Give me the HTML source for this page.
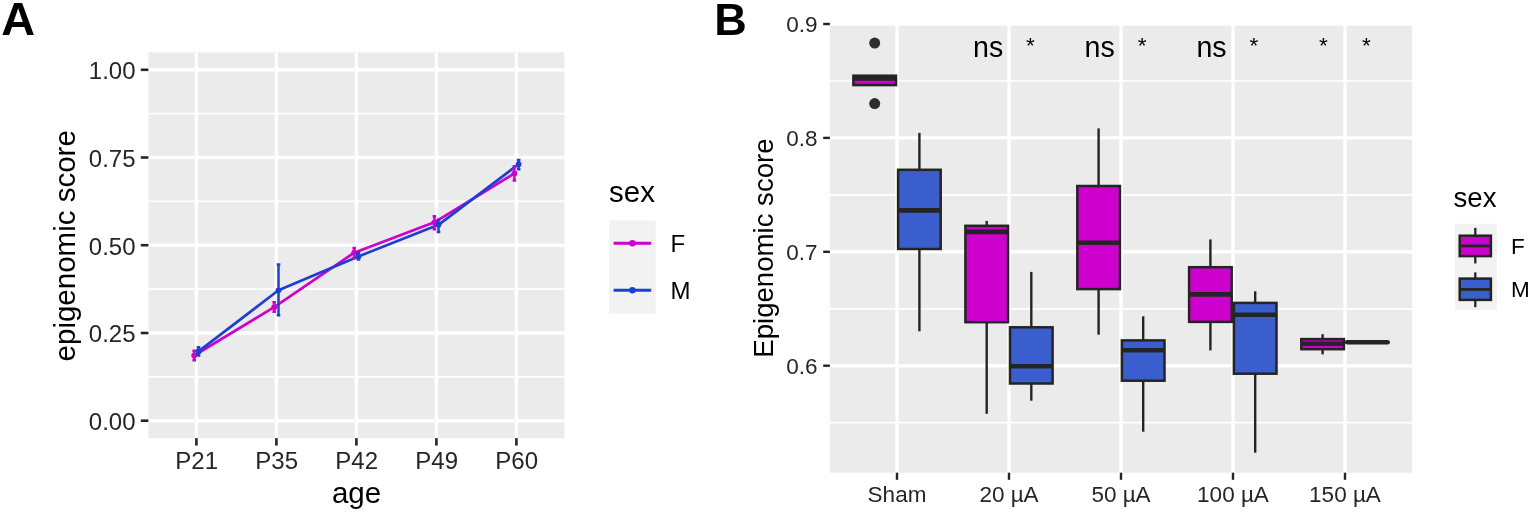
<!DOCTYPE html>
<html><head><meta charset="utf-8"><title>Figure</title>
<style>
html,body{margin:0;padding:0;background:#fff;}
body{width:1535px;height:512px;overflow:hidden;}
svg{display:block;}
</style></head>
<body>
<svg width="1535" height="512" viewBox="0 0 1535 512" font-family="'Liberation Sans', Arial, Helvetica, sans-serif">
<rect width="1535" height="512" fill="#fff"/>
<rect x="148.4" y="52.4" width="416.0" height="385.7" fill="#EBEBEB"/>
<line x1="148.4" x2="564.4" y1="376.8" y2="376.8" stroke="#fff" stroke-width="1.7"/>
<line x1="148.4" x2="564.4" y1="289.1" y2="289.1" stroke="#fff" stroke-width="1.7"/>
<line x1="148.4" x2="564.4" y1="201.4" y2="201.4" stroke="#fff" stroke-width="1.7"/>
<line x1="148.4" x2="564.4" y1="113.7" y2="113.7" stroke="#fff" stroke-width="1.7"/>
<line x1="148.4" x2="564.4" y1="420.7" y2="420.7" stroke="#fff" stroke-width="3.4"/>
<line x1="148.4" x2="564.4" y1="333.0" y2="333.0" stroke="#fff" stroke-width="3.4"/>
<line x1="148.4" x2="564.4" y1="245.2" y2="245.2" stroke="#fff" stroke-width="3.4"/>
<line x1="148.4" x2="564.4" y1="157.5" y2="157.5" stroke="#fff" stroke-width="3.4"/>
<line x1="148.4" x2="564.4" y1="69.8" y2="69.8" stroke="#fff" stroke-width="3.4"/>
<line x1="196.4" x2="196.4" y1="52.4" y2="438.1" stroke="#fff" stroke-width="3.4"/>
<line x1="276.4" x2="276.4" y1="52.4" y2="438.1" stroke="#fff" stroke-width="3.4"/>
<line x1="356.4" x2="356.4" y1="52.4" y2="438.1" stroke="#fff" stroke-width="3.4"/>
<line x1="436.4" x2="436.4" y1="52.4" y2="438.1" stroke="#fff" stroke-width="3.4"/>
<line x1="516.4" x2="516.4" y1="52.4" y2="438.1" stroke="#fff" stroke-width="3.4"/>
<line x1="140.8" x2="148.4" y1="420.7" y2="420.7" stroke="#242424" stroke-width="2.6"/>
<line x1="140.8" x2="148.4" y1="333.0" y2="333.0" stroke="#242424" stroke-width="2.6"/>
<line x1="140.8" x2="148.4" y1="245.2" y2="245.2" stroke="#242424" stroke-width="2.6"/>
<line x1="140.8" x2="148.4" y1="157.5" y2="157.5" stroke="#242424" stroke-width="2.6"/>
<line x1="140.8" x2="148.4" y1="69.8" y2="69.8" stroke="#242424" stroke-width="2.6"/>
<line x1="196.4" x2="196.4" y1="438.1" y2="445.6" stroke="#242424" stroke-width="2.6"/>
<line x1="276.4" x2="276.4" y1="438.1" y2="445.6" stroke="#242424" stroke-width="2.6"/>
<line x1="356.4" x2="356.4" y1="438.1" y2="445.6" stroke="#242424" stroke-width="2.6"/>
<line x1="436.4" x2="436.4" y1="438.1" y2="445.6" stroke="#242424" stroke-width="2.6"/>
<line x1="516.4" x2="516.4" y1="438.1" y2="445.6" stroke="#242424" stroke-width="2.6"/>
<text x="135.5" y="430.1" text-anchor="end" font-size="24" fill="#262626">0.00</text>
<text x="135.5" y="342.4" text-anchor="end" font-size="24" fill="#262626">0.25</text>
<text x="135.5" y="254.7" text-anchor="end" font-size="24" fill="#262626">0.50</text>
<text x="135.5" y="166.9" text-anchor="end" font-size="24" fill="#262626">0.75</text>
<text x="135.5" y="79.2" text-anchor="end" font-size="24" fill="#262626">1.00</text>
<text x="196.7" y="468.9" text-anchor="middle" font-size="24" fill="#262626">P21</text>
<text x="276.7" y="468.9" text-anchor="middle" font-size="24" fill="#262626">P35</text>
<text x="356.7" y="468.9" text-anchor="middle" font-size="24" fill="#262626">P42</text>
<text x="436.7" y="468.9" text-anchor="middle" font-size="24" fill="#262626">P49</text>
<text x="516.7" y="468.9" text-anchor="middle" font-size="24" fill="#262626">P60</text>
<text x="356.5" y="502.5" text-anchor="middle" font-size="29.5" fill="#000">age</text>
<text transform="translate(75.2,245.8) rotate(-90)" text-anchor="middle" font-size="29.5" fill="#000">epigenomic score</text>
<path d="M194.2 355.5 L274.2 307.2 L354.2 252.7 L434.4 222.3 L514.4 173.4" stroke="#CD00CD" stroke-width="2.7" fill="none" stroke-linejoin="round"/>
<path d="M198.5 351.4 L278.5 290.3 L358.4 256.4 L438.5 224.8 L518.6 164.2" stroke="#1E40D0" stroke-width="2.7" fill="none" stroke-linejoin="round"/>
<circle cx="194.2" cy="355.5" r="2.9" fill="#CD00CD"/>
<circle cx="274.2" cy="307.2" r="2.9" fill="#CD00CD"/>
<circle cx="354.2" cy="252.7" r="2.9" fill="#CD00CD"/>
<circle cx="434.4" cy="222.3" r="2.9" fill="#CD00CD"/>
<circle cx="514.4" cy="173.4" r="2.9" fill="#CD00CD"/>
<circle cx="198.5" cy="351.4" r="2.9" fill="#1E40D0"/>
<circle cx="278.5" cy="290.3" r="2.9" fill="#1E40D0"/>
<circle cx="358.4" cy="256.4" r="2.9" fill="#1E40D0"/>
<circle cx="438.5" cy="224.8" r="2.9" fill="#1E40D0"/>
<circle cx="518.6" cy="164.2" r="2.9" fill="#1E40D0"/>
<path d="M192.4 350.7H196.0M194.2 350.7V360.3M192.4 360.3H196.0" stroke="#CD00CD" stroke-width="2.5" fill="none"/>
<path d="M272.4 302.3H276.0M274.2 302.3V311.8M272.4 311.8H276.0" stroke="#CD00CD" stroke-width="2.5" fill="none"/>
<path d="M352.4 248.0H356.0M354.2 248.0V257.9M352.4 257.9H356.0" stroke="#CD00CD" stroke-width="2.5" fill="none"/>
<path d="M432.6 216.3H436.2M434.4 216.3V229.3M432.6 229.3H436.2" stroke="#CD00CD" stroke-width="2.5" fill="none"/>
<path d="M512.6 166.3H516.2M514.4 166.3V180.4M512.6 180.4H516.2" stroke="#CD00CD" stroke-width="2.5" fill="none"/>
<path d="M196.7 347.3H200.3M198.5 347.3V355.5M196.7 355.5H200.3" stroke="#1E40D0" stroke-width="2.5" fill="none"/>
<path d="M276.7 264.5H280.3M278.5 264.5V315.2M276.7 315.2H280.3" stroke="#1E40D0" stroke-width="2.5" fill="none"/>
<path d="M356.6 252.8H360.2M358.4 252.8V259.5M356.6 259.5H360.2" stroke="#1E40D0" stroke-width="2.5" fill="none"/>
<path d="M436.7 219.7H440.3M438.5 219.7V232.0M436.7 232.0H440.3" stroke="#1E40D0" stroke-width="2.5" fill="none"/>
<path d="M516.8 159.9H520.4M518.6 159.9V169.3M516.8 169.3H520.4" stroke="#1E40D0" stroke-width="2.5" fill="none"/>
<text x="609" y="202.3" font-size="29.5" fill="#000">sex</text>
<rect x="609.1" y="220.4" width="46.6" height="93.2" fill="#F2F2F2"/>
<line x1="613.6" x2="651.2" y1="243.2" y2="243.2" stroke="#CD00CD" stroke-width="2.9"/>
<circle cx="632.4" cy="243.2" r="3.3" fill="#CD00CD"/>
<text x="670.6" y="251.8" font-size="24" fill="#000">F</text>
<line x1="613.6" x2="651.2" y1="290.2" y2="290.2" stroke="#1E40D0" stroke-width="2.9"/>
<circle cx="632.4" cy="290.2" r="3.3" fill="#1E40D0"/>
<text x="670.6" y="298.8" font-size="24" fill="#000">M</text>
<text transform="translate(1.3,35.1) scale(1.02,1)" font-size="46" font-weight="bold" fill="#000">A</text>
<rect x="829.9" y="24.0" width="582.2" height="448.7" fill="#EBEBEB"/>
<line x1="829.9" x2="1412.1" y1="81.0" y2="81.0" stroke="#fff" stroke-width="1.7"/>
<line x1="829.9" x2="1412.1" y1="194.9" y2="194.9" stroke="#fff" stroke-width="1.7"/>
<line x1="829.9" x2="1412.1" y1="308.8" y2="308.8" stroke="#fff" stroke-width="1.7"/>
<line x1="829.9" x2="1412.1" y1="422.6" y2="422.6" stroke="#fff" stroke-width="1.7"/>
<line x1="829.9" x2="1412.1" y1="24.0" y2="24.0" stroke="#fff" stroke-width="3.4"/>
<line x1="829.9" x2="1412.1" y1="137.9" y2="137.9" stroke="#fff" stroke-width="3.4"/>
<line x1="829.9" x2="1412.1" y1="251.8" y2="251.8" stroke="#fff" stroke-width="3.4"/>
<line x1="829.9" x2="1412.1" y1="365.7" y2="365.7" stroke="#fff" stroke-width="3.4"/>
<line x1="897.0" x2="897.0" y1="22.3" y2="472.7" stroke="#fff" stroke-width="3.4"/>
<line x1="1009.0" x2="1009.0" y1="22.3" y2="472.7" stroke="#fff" stroke-width="3.4"/>
<line x1="1121.0" x2="1121.0" y1="22.3" y2="472.7" stroke="#fff" stroke-width="3.4"/>
<line x1="1233.0" x2="1233.0" y1="22.3" y2="472.7" stroke="#fff" stroke-width="3.4"/>
<line x1="1345.0" x2="1345.0" y1="22.3" y2="472.7" stroke="#fff" stroke-width="3.4"/>
<line x1="823.2" x2="829.9" y1="24.0" y2="24.0" stroke="#242424" stroke-width="2.4"/>
<line x1="823.2" x2="829.9" y1="137.9" y2="137.9" stroke="#242424" stroke-width="2.4"/>
<line x1="823.2" x2="829.9" y1="251.8" y2="251.8" stroke="#242424" stroke-width="2.4"/>
<line x1="823.2" x2="829.9" y1="365.7" y2="365.7" stroke="#242424" stroke-width="2.4"/>
<line x1="897.0" x2="897.0" y1="472.7" y2="479.8" stroke="#242424" stroke-width="2.4"/>
<line x1="1009.0" x2="1009.0" y1="472.7" y2="479.8" stroke="#242424" stroke-width="2.4"/>
<line x1="1121.0" x2="1121.0" y1="472.7" y2="479.8" stroke="#242424" stroke-width="2.4"/>
<line x1="1233.0" x2="1233.0" y1="472.7" y2="479.8" stroke="#242424" stroke-width="2.4"/>
<line x1="1345.0" x2="1345.0" y1="472.7" y2="479.8" stroke="#242424" stroke-width="2.4"/>
<text x="817.5" y="32.1" text-anchor="end" font-size="22.5" fill="#262626">0.9</text>
<text x="817.5" y="146.0" text-anchor="end" font-size="22.5" fill="#262626">0.8</text>
<text x="817.5" y="259.9" text-anchor="end" font-size="22.5" fill="#262626">0.7</text>
<text x="817.5" y="373.8" text-anchor="end" font-size="22.5" fill="#262626">0.6</text>
<text x="897.0" y="501.7" text-anchor="middle" font-size="22.5" fill="#262626">Sham</text>
<text x="1009.0" y="501.7" text-anchor="middle" font-size="22.5" fill="#262626">20 µA</text>
<text x="1121.0" y="501.7" text-anchor="middle" font-size="22.5" fill="#262626">50 µA</text>
<text x="1233.0" y="501.7" text-anchor="middle" font-size="22.5" fill="#262626">100 µA</text>
<text x="1345.0" y="501.7" text-anchor="middle" font-size="22.5" fill="#262626">150 µA</text>
<text transform="translate(772.9,248.1) rotate(-90)" text-anchor="middle" font-size="27.6" fill="#000">Epigenomic score</text>
<rect x="853.4" y="75.7" width="42.6" height="9.4" fill="#CD00CD" stroke="#242424" stroke-width="2.5"/>
<line x1="853.4" x2="896.0" y1="78.5" y2="78.5" stroke="#242424" stroke-width="4.6"/>
<line x1="919.4" x2="919.4" y1="132.9" y2="169.8" stroke="#242424" stroke-width="2.4"/>
<line x1="919.4" x2="919.4" y1="249.0" y2="331.3" stroke="#242424" stroke-width="2.4"/>
<rect x="898.1" y="169.8" width="42.6" height="79.2" fill="#3A5ECD" stroke="#242424" stroke-width="2.5"/>
<line x1="898.1" x2="940.7" y1="210.4" y2="210.4" stroke="#242424" stroke-width="4.6"/>
<line x1="986.7" x2="986.7" y1="220.9" y2="225.8" stroke="#242424" stroke-width="2.4"/>
<line x1="986.7" x2="986.7" y1="322.2" y2="413.8" stroke="#242424" stroke-width="2.4"/>
<rect x="965.4" y="225.8" width="42.6" height="96.4" fill="#CD00CD" stroke="#242424" stroke-width="2.5"/>
<line x1="965.4" x2="1008.0" y1="231.9" y2="231.9" stroke="#242424" stroke-width="4.6"/>
<line x1="1031.3" x2="1031.3" y1="271.9" y2="327.3" stroke="#242424" stroke-width="2.4"/>
<line x1="1031.3" x2="1031.3" y1="383.5" y2="400.7" stroke="#242424" stroke-width="2.4"/>
<rect x="1010.0" y="327.3" width="42.6" height="56.2" fill="#3A5ECD" stroke="#242424" stroke-width="2.5"/>
<line x1="1010.0" x2="1052.6" y1="366.3" y2="366.3" stroke="#242424" stroke-width="4.6"/>
<line x1="1098.6" x2="1098.6" y1="128.4" y2="186.0" stroke="#242424" stroke-width="2.4"/>
<line x1="1098.6" x2="1098.6" y1="289.09999999999997" y2="334.7" stroke="#242424" stroke-width="2.4"/>
<rect x="1077.3" y="186.0" width="42.6" height="103.1" fill="#CD00CD" stroke="#242424" stroke-width="2.5"/>
<line x1="1077.3" x2="1119.9" y1="242.8" y2="242.8" stroke="#242424" stroke-width="4.6"/>
<line x1="1143.2" x2="1143.2" y1="316.3" y2="340.4" stroke="#242424" stroke-width="2.4"/>
<line x1="1143.2" x2="1143.2" y1="380.7" y2="431.7" stroke="#242424" stroke-width="2.4"/>
<rect x="1121.9" y="340.4" width="42.6" height="40.3" fill="#3A5ECD" stroke="#242424" stroke-width="2.5"/>
<line x1="1121.9" x2="1164.5" y1="350.3" y2="350.3" stroke="#242424" stroke-width="4.6"/>
<line x1="1210.4" x2="1210.4" y1="239.4" y2="267.2" stroke="#242424" stroke-width="2.4"/>
<line x1="1210.4" x2="1210.4" y1="321.9" y2="350.4" stroke="#242424" stroke-width="2.4"/>
<rect x="1189.1" y="267.2" width="42.6" height="54.7" fill="#CD00CD" stroke="#242424" stroke-width="2.5"/>
<line x1="1189.1" x2="1231.7" y1="294.4" y2="294.4" stroke="#242424" stroke-width="4.6"/>
<line x1="1255.2" x2="1255.2" y1="291.3" y2="302.9" stroke="#242424" stroke-width="2.4"/>
<line x1="1255.2" x2="1255.2" y1="373.7" y2="452.7" stroke="#242424" stroke-width="2.4"/>
<rect x="1233.9" y="302.9" width="42.6" height="70.8" fill="#3A5ECD" stroke="#242424" stroke-width="2.5"/>
<line x1="1233.9" x2="1276.5" y1="314.7" y2="314.7" stroke="#242424" stroke-width="4.6"/>
<line x1="1322.6" x2="1322.6" y1="334.2" y2="339.1" stroke="#242424" stroke-width="2.4"/>
<line x1="1322.6" x2="1322.6" y1="349.2" y2="354.4" stroke="#242424" stroke-width="2.4"/>
<rect x="1301.3" y="339.1" width="42.6" height="10.1" fill="#CD00CD" stroke="#242424" stroke-width="2.5"/>
<line x1="1301.3" x2="1343.9" y1="343.7" y2="343.7" stroke="#242424" stroke-width="4.6"/>
<line x1="1347.1" x2="1387.7" y1="342.3" y2="342.3" stroke="#242424" stroke-width="4.4" stroke-linecap="round"/>
<circle cx="874.7" cy="43.1" r="5.5" fill="#2E2E2E"/>
<circle cx="874.7" cy="103.6" r="5.5" fill="#2E2E2E"/>
<text x="988.2" y="57" text-anchor="middle" font-size="28.6" fill="#000">ns</text>
<text x="1030.3" y="53.3" text-anchor="middle" font-size="22.5" fill="#000">*</text>
<text x="1099.6" y="57" text-anchor="middle" font-size="28.6" fill="#000">ns</text>
<text x="1142.1" y="53.3" text-anchor="middle" font-size="22.5" fill="#000">*</text>
<text x="1211.5" y="57" text-anchor="middle" font-size="28.6" fill="#000">ns</text>
<text x="1253.9" y="53.3" text-anchor="middle" font-size="22.5" fill="#000">*</text>
<text x="1323.3" y="53.3" text-anchor="middle" font-size="22.5" fill="#000">*</text>
<text x="1366.3" y="53.3" text-anchor="middle" font-size="22.5" fill="#000">*</text>
<text x="1453.5" y="207.3" font-size="27.6" fill="#000">sex</text>
<rect x="1455" y="223.7" width="41.9" height="86.2" fill="#F2F2F2"/>
<line x1="1475.3" x2="1475.3" y1="227.9" y2="263.4" stroke="#242424" stroke-width="2.3"/>
<rect x="1459.7" y="235.7" width="31.2" height="20.4" fill="#CD00CD" stroke="#242424" stroke-width="2.5"/>
<line x1="1459.7" x2="1490.9" y1="245.9" y2="245.9" stroke="#242424" stroke-width="2.8"/>
<text x="1511" y="254.4" font-size="22.5" fill="#000">F</text>
<line x1="1475.3" x2="1475.3" y1="272.4" y2="307.2" stroke="#242424" stroke-width="2.3"/>
<rect x="1459.7" y="278.6" width="31.2" height="21.3" fill="#3A5ECD" stroke="#242424" stroke-width="2.5"/>
<line x1="1459.7" x2="1490.9" y1="289.4" y2="289.4" stroke="#242424" stroke-width="2.8"/>
<text x="1511" y="297.0" font-size="22.5" fill="#000">M</text>
<text x="714.2" y="35" font-size="45" font-weight="bold" fill="#000">B</text>
</svg>
</body></html>
